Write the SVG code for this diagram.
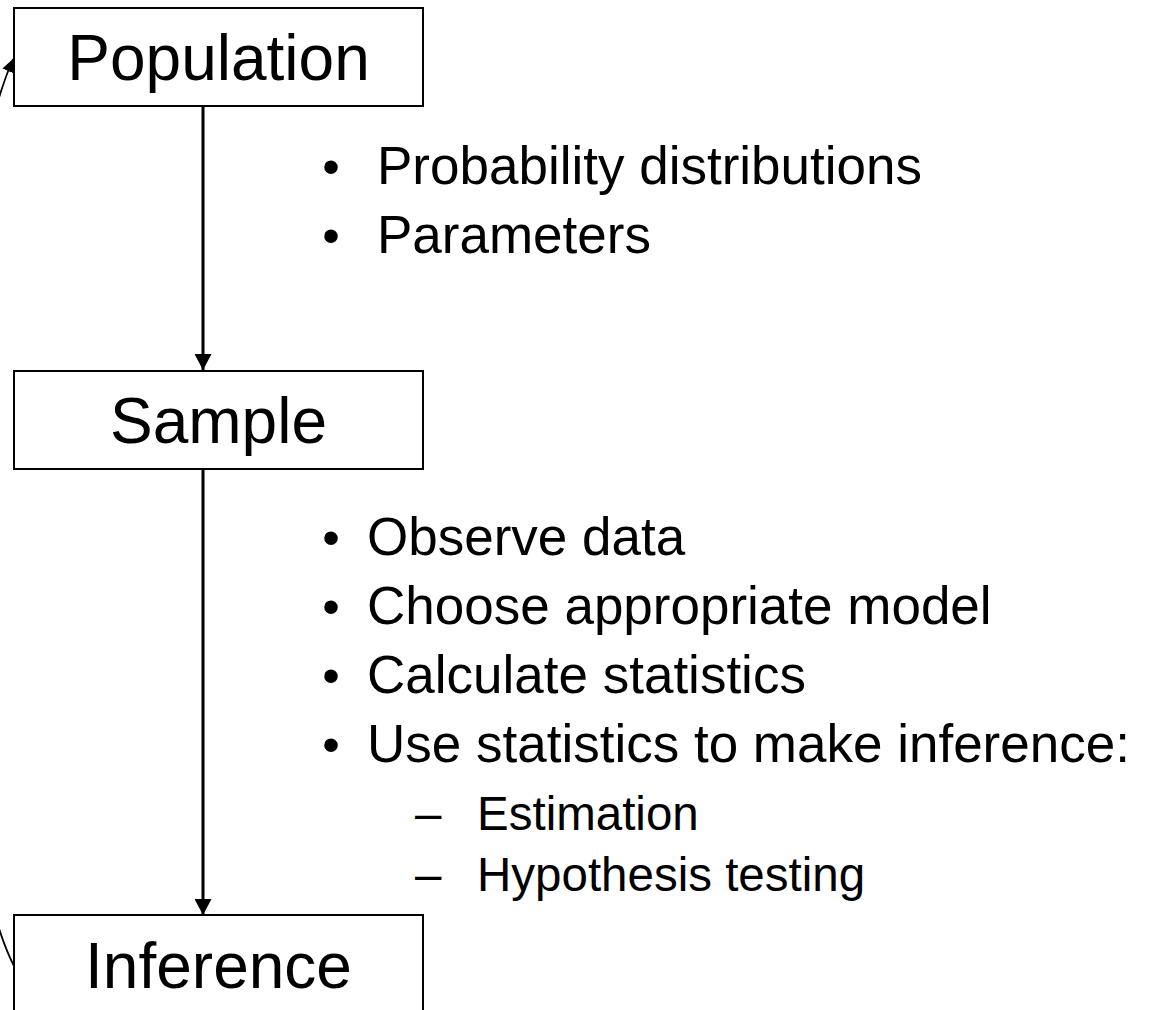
<svg xmlns="http://www.w3.org/2000/svg" width="1153" height="1010" viewBox="0 0 1153 1010">
  <style>
    .box { fill: #ffffff; stroke: #000000; stroke-width: 2; }
    .title { font-family: "Liberation Sans", Arial, sans-serif; font-size: 64px; fill: #000000; text-anchor: middle; }
    .item { font-family: "Liberation Sans", Arial, sans-serif; font-size: 53px; fill: #000000; }
    .sub { font-family: "Liberation Sans", Arial, sans-serif; font-size: 47.5px; fill: #000000; }
    .bullet { text-anchor: middle; font-size: 50px; }
    .flow { fill: none; stroke: #000000; stroke-width: 3; }
    .loop { fill: none; stroke: #000000; stroke-width: 1.8; }
  </style>
  <defs>
    <marker id="head" markerUnits="userSpaceOnUse" markerWidth="17" markerHeight="17" refX="16" refY="8.5" orient="auto">
      <path d="M0,0 L16,8.5 L0,17 Z" fill="#000000"/>
    </marker>
    <marker id="headSmall" markerUnits="userSpaceOnUse" markerWidth="14" markerHeight="12" refX="13" refY="6" orient="auto">
      <path d="M0,0 L13,6 L0,12 Z" fill="#000000"/>
    </marker>
  </defs>

  <rect width="1153" height="1010" fill="#ffffff"/>

  <!-- connectors -->
  <g id="connectors">
    <line class="flow" x1="203" y1="106" x2="203" y2="370" marker-end="url(#head)"/>
    <line class="flow" x1="203" y1="469" x2="203" y2="915" marker-end="url(#head)"/>
    <!-- feedback loop from Inference back to Population, running outside the left edge -->
    <path class="loop" d="M14,966 C-60,820 -71,255 13,59" marker-end="url(#headSmall)"/>
  </g>

  <!-- nodes -->
  <g id="population">
    <rect class="box" x="14" y="8" width="409" height="98"/>
    <text class="title" x="218.5" y="80">Population</text>
  </g>

  <g id="sample">
    <rect class="box" x="14" y="371" width="409" height="98"/>
    <text class="title" x="218.5" y="443">Sample</text>
  </g>

  <g id="inference">
    <rect class="box" x="14" y="915" width="409" height="98"/>
    <text class="title" x="218.5" y="988">Inference</text>
  </g>

  <!-- notes between Population and Sample -->
  <g id="population-notes">
    <text class="item bullet" x="331" y="184">•</text>
    <text class="item" x="377" y="184">Probability distributions</text>
    <text class="item bullet" x="331" y="253">•</text>
    <text class="item" x="377" y="253">Parameters</text>
  </g>

  <!-- notes between Sample and Inference -->
  <g id="sample-notes">
    <text class="item bullet" x="331" y="555">•</text>
    <text class="item" x="367" y="555">Observe data</text>
    <text class="item bullet" x="331" y="624">•</text>
    <text class="item" x="367" y="624">Choose appropriate model</text>
    <text class="item bullet" x="331" y="693">•</text>
    <text class="item" x="367" y="693">Calculate statistics</text>
    <text class="item bullet" x="331" y="762">•</text>
    <text class="item" x="367" y="762">Use statistics to make inference:</text>
    <text class="sub" x="415" y="830">–</text>
    <text class="sub" x="477" y="830">Estimation</text>
    <text class="sub" x="415" y="891">–</text>
    <text class="sub" x="477" y="891">Hypothesis testing</text>
  </g>
</svg>
